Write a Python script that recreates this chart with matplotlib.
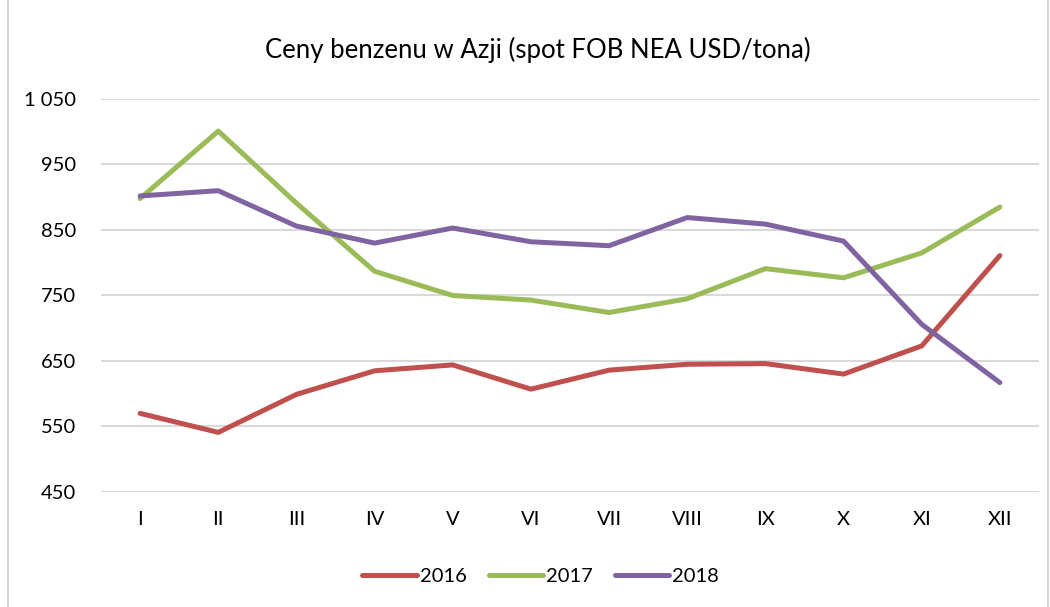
import matplotlib
matplotlib.use("Agg")
import matplotlib.pyplot as plt
from matplotlib.patches import Rectangle

plt.rcParams['font.family'] = ['Lato', 'DejaVu Sans']

# months (roman numerals) and spot prices USD/t
months = ["I", "II", "III", "IV", "V", "VI", "VII", "VIII", "IX", "X", "XI", "XII"]
y2016 = [570, 541, 599, 635, 644, 607, 636, 645, 646, 630, 673, 811]
y2017 = [898, 1001, 891, 787, 750, 743, 724, 745, 791, 777, 815, 885]
y2018 = [902, 910, 856, 830, 853, 832, 826, 869, 859, 833, 706, 617]
yticks = [450, 550, 650, 750, 850, 950, 1050]

fig = plt.figure(figsize=(10.5, 6.07), dpi=100)
ax = fig.add_axes([0.0962, 0.1895, 0.8933, 0.6474])

x = range(len(months))
lw = 3.6
ax.plot(x, y2016, color="#C0504D", lw=lw, label="2016", solid_capstyle="round", solid_joinstyle="round")
ax.plot(x, y2017, color="#9BBB59", lw=lw, label="2017", solid_capstyle="round", solid_joinstyle="round")
ax.plot(x, y2018, color="#8064A2", lw=lw, label="2018", solid_capstyle="round", solid_joinstyle="round")

ax.set_xlim(-0.5, len(months) - 0.5)
ax.set_ylim(450, 1050)
ax.set_yticks(yticks)
ax.set_yticklabels([f"{v:,}".replace(",", " ") for v in yticks])
ax.set_xticks(list(x))
ax.set_xticklabels(months)
ax.tick_params(length=0, labelsize=14.5, colors="black")
ax.tick_params(axis="y", pad=18)
ax.tick_params(axis="x", pad=14)
ax.grid(axis="y", color="#D9D9D9", lw=1.5)
ax.set_axisbelow(True)
for s in ax.spines.values():
    s.set_visible(False)

fig.text(0.512, 0.918, "Ceny benzenu w Azji (spot FOB NEA USD/tona)", ha="center", va="center", fontsize=18.5)

fig.legend(loc="center", bbox_to_anchor=(0.515, 0.05), ncol=3, frameon=False, fontsize=14.5,
           handlelength=2.7, columnspacing=1.1, handletextpad=0.15)

fig.patches.append(Rectangle((0.008, -0.01), 0.99, 1.02, transform=fig.transFigure,
                             fill=False, edgecolor="#D9D9D9", lw=1.5))

fig.savefig("out.png", dpi=100)
